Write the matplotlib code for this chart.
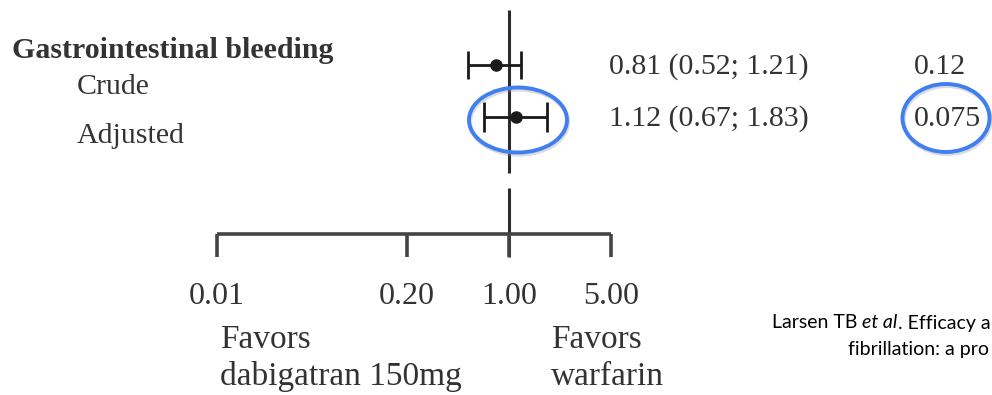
import numpy as np
import matplotlib.pyplot as plt
from matplotlib.patches import Ellipse

# data
group = 'Gastrointestinal bleeding'
rows = ['Crude', 'Adjusted']
est = [0.81, 1.12]
lo = [0.52, 0.67]
hi = [1.21, 1.83]
pvals = ['0.12', '0.075']
ticks = [0.01, 0.20, 1.00, 5.00]
tick_labels = ['0.01', '0.20', '1.00', '5.00']

W, H = 992, 395
fig = plt.figure(figsize=(W / 100, H / 100), dpi=100)
ax = fig.add_axes([0, 0, 1, 1])
ax.set_xscale('log')
# 146 px per decade, 1.00 at x=509
ax.set_xlim(10 ** (-509 / 146), 10 ** ((W - 509) / 146))
ax.set_ylim(H, 0)
ax.axis('off')

# overlay in pixel coords for text and highlights
ov = fig.add_axes([0, 0, 1, 1])
ov.set_xlim(0, W)
ov.set_ylim(H, 0)
ov.axis('off')
ov.patch.set_alpha(0)

serif = 'Liberation Serif'
ink = '#2b2b2b'
txt = '#333333'
fs = 21.5
fs_low = 24

# row positions (pixel rows)
ys = [65, 117]
caps = [10, 11]

# reference line at 1
ax.plot([1, 1], [10, 173], color=ink, lw=2.2, solid_capstyle='butt')
ax.plot([1, 1], [188, 257], color=ink, lw=2.2, solid_capstyle='butt')

# x axis
ax.plot([ticks[0], ticks[-1]], [234, 234], color='#444444', lw=2.6, solid_capstyle='butt')
for t, lab in zip(ticks, tick_labels):
    ax.plot([t, t], [234, 257], color='#444444', lw=2.6, solid_capstyle='butt')
    ax.text(t, 296, lab, ha='center', va='center', family=serif, fontsize=23, color=txt)

for y, e, l, h, c in zip(ys, est, lo, hi, caps):
    ax.errorbar([e], [y], xerr=[[e - l], [h - e]], fmt='o', color='#1a1a1a', ms=8,
                elinewidth=2, capsize=c, capthick=2)

# labels
ov.text(12, 50, group, ha='left', va='center', family=serif, fontsize=fs,
        fontweight='bold', color=txt)
for y, r in zip([87, 136], rows):
    ov.text(77, y, r, ha='left', va='center', family=serif, fontsize=fs, color=txt)

for y, e, l, h, p in zip(ys, est, lo, hi, pvals):
    ov.text(609, y + 2, f'{e:.2f} ({l:.2f}; {h:.2f})', ha='left',
            va='center', family=serif, fontsize=fs, color=txt)
    ov.text(914, y + 2, p, ha='left', va='center', family=serif, fontsize=fs, color=txt)

# favours labels
ov.text(220, 340, 'Favors', ha='left', va='center', family=serif, fontsize=fs_low, color=txt)
ov.text(220, 377, 'dabigatran 150mg', ha='left', va='center', family=serif, fontsize=fs_low, color=txt)
ov.text(551, 340, 'Favors', ha='left', va='center', family=serif, fontsize=fs_low, color=txt)
ov.text(551, 377, 'warfarin', ha='left', va='center', family=serif, fontsize=fs_low, color=txt)

# citation, cropped at the right edge as in the reference
sans = 'Lato'
cfs = 14
t1 = ov.text(772, 323, 'Larsen TB ', ha='left', va='center', family=sans, fontsize=cfs)
t2 = ov.annotate('et al', xy=(1, 0), xycoords=t1, ha='left', va='bottom',
                 family=sans, fontsize=cfs, style='italic')
ov.annotate('. Efficacy a', xy=(1, 0), xycoords=t2, ha='left',
            va='bottom', family=sans, fontsize=cfs)
ov.text(848, 350, 'fibrillation: a pro', ha='left', va='center', family=sans, fontsize=cfs)

# highlight ellipses
for cx, cy, w, h in [(518, 120, 98, 65), (946, 118, 87, 68)]:
    ov.add_patch(Ellipse((cx + 1, cy + 2), w, h, fill=False, ec='#999999', lw=3, alpha=0.35))
    ov.add_patch(Ellipse((cx, cy), w, h, fill=False, ec='#3f7ff2', lw=2.8))

fig.savefig('out.png', dpi=100)
